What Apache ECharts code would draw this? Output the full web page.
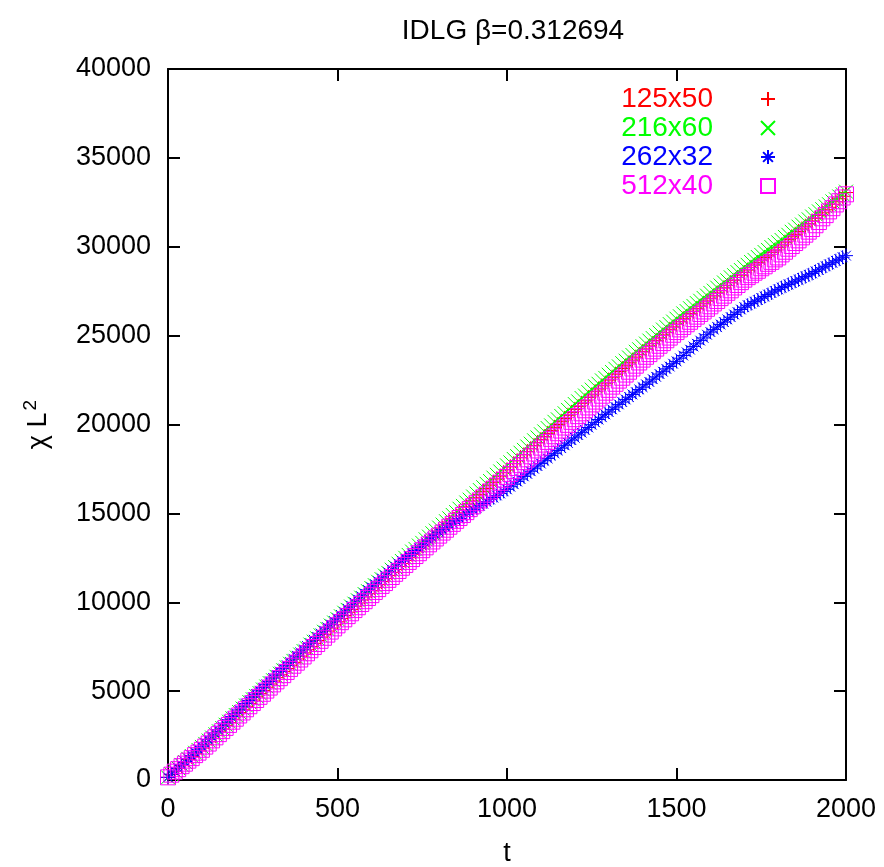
<!DOCTYPE html>
<html><head><meta charset="utf-8">
<script src="https://cdn.jsdelivr.net/npm/echarts@6/dist/echarts.min.js"></script>
<style>html,body{margin:0;padding:0;background:#fff}#c{width:884px;height:867px}</style>
</head><body><div id="c"></div>
<script>
// sampling grid: t = 0, 10, 20, ... 2000
const T_STEP = 10;
const NAMES = ['125x50', '216x60', '262x32', '512x40'];
const TITLE = 'IDLG \u03b2=0.312694';
const X_TICKS = [0, 500, 1000, 1500, 2000];
const Y_TICKS = [0, 5000, 10000, 15000, 20000, 25000, 30000, 35000, 40000];

const red = [150,310,490,650,820,990,1150,1320,1480,1640,
1800,1990,2150,2350,2510,2710,2870,3070,3230,3420,
3600,3790,3950,4150,4310,4500,4680,4860,5030,5220,
5400,5570,5760,5920,6110,6270,6460,6620,6810,6970,
7150,7330,7500,7690,7850,8040,8200,8380,8550,8730,
8900,9080,9250,9440,9600,9780,9960,10130,10300,10480,
10650,10820,10990,11170,11330,11500,11680,11840,12010,12180,
12350,12510,12690,12840,13020,13170,13350,13500,13680,13830,
14000,14170,14350,14510,14690,14850,15030,15190,15370,15530,
15700,15880,16050,16240,16400,16590,16750,16940,17100,17290,
17450,17620,17800,17960,18140,18300,18480,18640,18820,18980,
19150,19320,19500,19660,19840,20000,20180,20340,20520,20680,
20850,21010,21190,21340,21520,21670,21850,22000,22180,22330,
22500,22660,22830,22980,23150,23300,23470,23620,23790,23940,
24100,24250,24420,24560,24730,24870,25040,25180,25350,25490,
25650,25790,25950,26080,26240,26370,26530,26660,26820,26950,
27100,27240,27400,27530,27690,27820,27980,28110,28270,28400,
28550,28690,28840,28970,29120,29250,29400,29530,29680,29810,
29950,30100,30260,30400,30560,30700,30860,31000,31160,31300,
31450,31600,31770,31910,32080,32220,32390,32530,32700,32840,
33050];

const green = [150,320,505,670,850,1010,1190,1350,1530,1690,
1860,2030,2220,2390,2570,2740,2920,3110,3280,3470,
3650,3820,4020,4190,4380,4540,4730,4890,5090,5260,
5450,5610,5810,5980,6170,6340,6540,6700,6890,7060,
7250,7410,7620,7780,7970,8140,8340,8500,8690,8860,
9050,9210,9410,9570,9760,9920,10110,10260,10460,10620,
10800,10960,11150,11300,11500,11650,11830,11980,12170,12320,
12500,12660,12850,13000,13190,13340,13540,13690,13880,14030,
14200,14370,14560,14720,14910,15070,15260,15420,15610,15770,
15950,16120,16310,16470,16660,16820,17010,17170,17360,17520,
17700,17870,18060,18220,18410,18570,18760,18920,19110,19270,
19450,19610,19800,19950,20150,20290,20480,20630,20820,20970,
21150,21300,21490,21630,21820,21960,22150,22290,22480,22620,
22800,22950,23130,23270,23450,23590,23770,23910,24090,24230,
24400,24550,24720,24860,25030,25170,25340,25480,25650,25790,
25950,26090,26250,26380,26540,26670,26830,26960,27120,27250,
27400,27530,27700,27820,27990,28110,28280,28400,28570,28690,
28850,28980,29140,29260,29420,29540,29700,29820,29980,30100,
30250,30380,30550,30670,30840,30960,31130,31250,31420,31540,
31700,31830,31990,32110,32270,32390,32550,32670,32830,32950,
33100];

const blue = [150,330,510,680,860,1030,1210,1380,1560,1730,
1900,2090,2280,2460,2650,2830,3020,3200,3390,3570,
3750,3940,4110,4300,4470,4660,4830,5020,5190,5380,
5550,5740,5910,6100,6270,6460,6630,6820,6990,7180,
7350,7540,7700,7890,8050,8240,8400,8590,8750,8940,
9100,9290,9450,9640,9800,9990,10150,10340,10500,10690,
10850,11020,11180,11350,11510,11680,11840,12010,12170,12320,
12450,12610,12750,12910,13050,13210,13350,13510,13650,13810,
13950,14080,14200,14330,14450,14580,14700,14830,14950,15080,
15200,15320,15430,15550,15660,15780,15890,16010,16120,16240,
16350,16500,16640,16790,16930,17080,17220,17370,17510,17660,
17800,17960,18090,18250,18380,18540,18670,18830,18960,19120,
19250,19410,19540,19700,19830,19990,20120,20280,20410,20570,
20700,20850,20980,21130,21260,21410,21540,21690,21820,21970,
22100,22260,22390,22550,22680,22840,22970,23130,23260,23420,
23550,23730,23880,24060,24210,24390,24540,24720,24870,25050,
25200,25350,25480,25630,25760,25910,26040,26190,26320,26470,
26600,26710,26800,26910,27000,27110,27200,27310,27400,27510,
27600,27700,27780,27880,27960,28060,28140,28240,28320,28420,
28500,28610,28700,28810,28900,29010,29100,29210,29300,29410,
29500];

const magenta = [150,300,470,610,780,920,1090,1230,1400,1540,
1700,1880,2050,2230,2400,2580,2750,2930,3100,3280,
3450,3630,3800,3980,4150,4330,4500,4680,4850,5030,
5200,5380,5550,5730,5900,6080,6250,6430,6600,6780,
6950,7130,7300,7480,7650,7830,8000,8180,8350,8530,
8700,8880,9040,9220,9380,9560,9720,9900,10060,10240,
10400,10580,10740,10920,11080,11260,11420,11600,11760,11940,
12100,12270,12430,12600,12760,12930,13090,13260,13420,13590,
13750,13920,14080,14250,14410,14580,14740,14910,15070,15240,
15400,15570,15730,15900,16060,16230,16390,16560,16720,16890,
17050,17220,17380,17550,17710,17880,18040,18210,18370,18540,
18700,18870,19020,19190,19340,19510,19660,19830,19980,20150,
20300,20470,20630,20800,20960,21130,21290,21460,21620,21790,
21950,22130,22290,22470,22630,22810,22970,23150,23310,23490,
23650,23810,23960,24120,24270,24430,24580,24740,24890,25050,
25200,25350,25490,25640,25780,25930,26070,26220,26360,26510,
26650,26810,26950,27110,27250,27410,27550,27710,27850,28010,
28150,28290,28400,28540,28650,28790,28900,29040,29150,29290,
29400,29570,29720,29890,30040,30210,30360,30530,30680,30850,
31000,31210,31390,31600,31780,31990,32170,32380,32560,32770,
32950];

const SERIES_VALUES = [red, green, blue, magenta];
const COLORS = ['#ff0000', '#00ff00', '#0000ff', '#ff00ff'];
const SYMBOLS = [
  'path://M0,5L10,5M5,0L5,10',
  'path://M0,0L10,10M0,10L10,0',
  'path://M0,5L10,5M5,0L5,10M1.5,1.5L8.5,8.5M1.5,8.5L8.5,1.5',
  'path://M0,0L10,0L10,10L0,10Z'
];
const SIZES = [15, 14, 14, 15];

const FONT = 'Liberation Sans, Arial, sans-serif';
const chart = echarts.init(document.getElementById('c'), null, {renderer: 'canvas'});

const axisLineStyle = {color: '#000', width: 2};
const commonAxis = {
  axisLine: {show: true, onZero: false, lineStyle: axisLineStyle},
  axisTick: {show: true, inside: true, length: 12, lineStyle: {color: '#000', width: 2}},
  splitLine: {show: false}
};
const plain = v => String(v);

const option = {
  animation: false,
  backgroundColor: '#fff',
  title: {
    text: TITLE, left: 508, top: 12, textAlign: 'center',
    textStyle: {fontFamily: FONT, fontSize: 28, fontWeight: 'normal', color: '#000'}
  },
  legend: {
    orient: 'vertical', right: 103, top: 80, align: 'right',
    itemWidth: 14, itemHeight: 14, itemGap: 1,
    textStyle: {fontFamily: FONT, fontSize: 28, padding: [0, 43, 0, 0]},
    data: NAMES.map((n, i) => ({name: n, textStyle: {color: COLORS[i]}}))
  },
  grid: {left: 168, right: 38, top: 69, bottom: 87, containLabel: false, outerBoundsMode: 'none'},
  xAxis: [
    Object.assign({}, commonAxis, {
      type: 'value', position: 'bottom', min: X_TICKS[0], max: X_TICKS[X_TICKS.length - 1], interval: 500,
      axisLabel: {fontFamily: FONT, fontSize: 27, color: '#000', margin: 16, formatter: plain},
      name: 't', nameLocation: 'middle', nameGap: 60,
      nameTextStyle: {fontFamily: FONT, fontSize: 27, color: '#000'}
    }),
    Object.assign({}, commonAxis, {
      type: 'value', position: 'top', min: X_TICKS[0], max: X_TICKS[X_TICKS.length - 1], interval: 500,
      axisLabel: {show: false}
    })
  ],
  yAxis: [
    Object.assign({}, commonAxis, {
      type: 'value', position: 'left', min: Y_TICKS[0], max: Y_TICKS[Y_TICKS.length - 1], interval: 5000,
      axisLabel: {fontFamily: FONT, fontSize: 27, color: '#000', margin: 17, formatter: plain},
      name: '\u03c7 L{sup|2}', nameLocation: 'middle', nameGap: 112, nameRotate: 90,
      nameTextStyle: {fontFamily: FONT, fontSize: 27, color: '#000',
        rich: {sup: {fontFamily: FONT, fontSize: 19, color: '#000', verticalAlign: 'top', padding: [0, 0, 16, 2]}}}
    }),
    Object.assign({}, commonAxis, {
      type: 'value', position: 'right', min: Y_TICKS[0], max: Y_TICKS[Y_TICKS.length - 1], interval: 5000,
      axisLabel: {show: false}
    })
  ],
  series: NAMES.map((n, i) => ({
    name: n,
    type: 'scatter',
    xAxisIndex: 0, yAxisIndex: 0,
    symbol: SYMBOLS[i],
    symbolSize: SIZES[i],
    silent: true,
    itemStyle: {color: i === 3 ? 'rgba(0,0,0,0)' : COLORS[i], borderColor: COLORS[i], borderWidth: 1, opacity: 1},
    data: SERIES_VALUES[i].map((v, k) => [k * T_STEP, v])
  }))
};
chart.setOption(option);
</script>
</body></html>
